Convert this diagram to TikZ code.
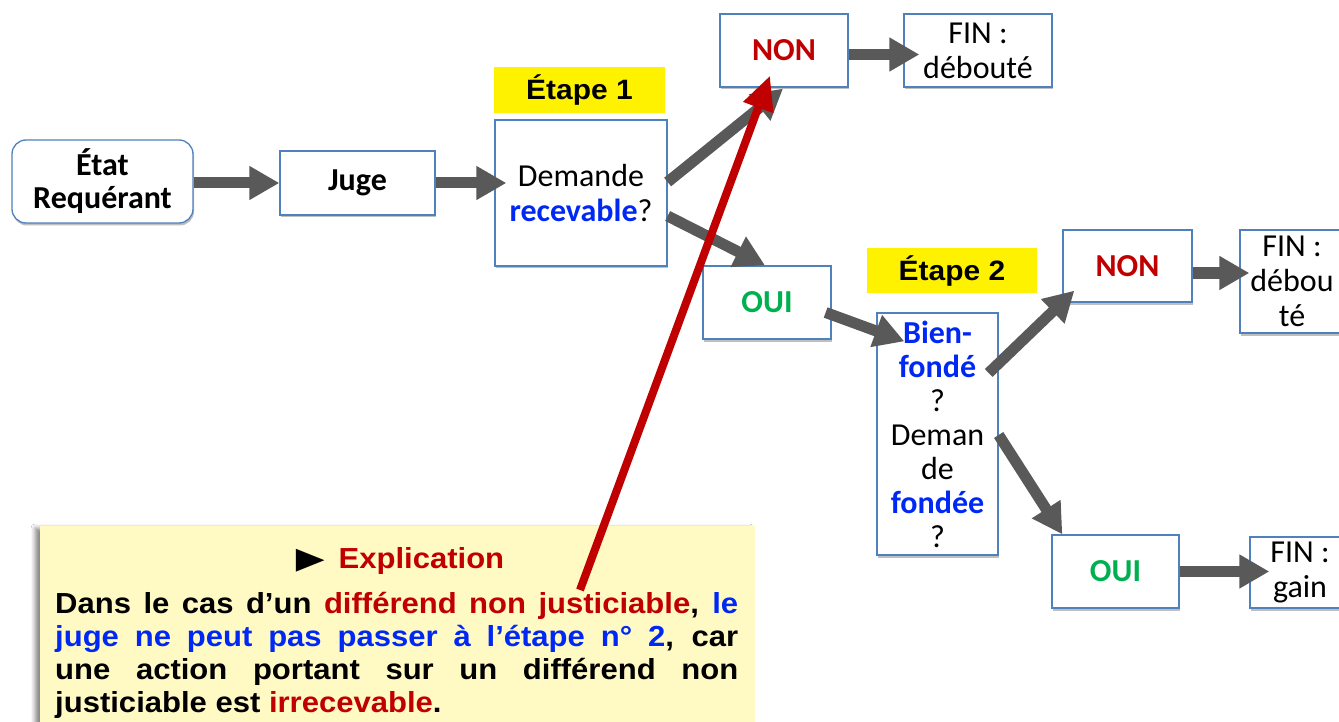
\documentclass[tikz,border=0pt]{standalone}
\usepackage{fontspec}
\setmainfont{Carlito}
\newfontfamily\arialb{Liberation Sans}[FakeStretch=1.07]
\newfontfamily\dejavu{DejaVu Sans}
\usetikzlibrary{arrows.meta,shadows,shadows.blur,calc}
\definecolor{boxline}{RGB}{79,129,189}
\definecolor{arrgray}{RGB}{89,89,89}
\definecolor{dred}{RGB}{192,0,0}
\definecolor{tblue}{RGB}{0,40,245}
\definecolor{tgreen}{RGB}{0,176,80}
\definecolor{paleyel}{RGB}{255,250,196}
\begin{document}
\begin{tikzpicture}[x=1pt,y=-1pt,
  box/.style={draw=boxline, line width=1.3pt, fill=white, inner sep=0pt, align=center,
    font=\fontsize{32}{35}\selectfont,
    drop shadow={shadow xshift=1pt, shadow yshift=-2.5pt, fill=black, opacity=.25}},
  ybox/.style={fill=yellow, inner sep=0pt, align=center,
    font=\arialb\bfseries\fontsize{28}{30}\selectfont},
  garrow/.style={draw=arrgray, line width=11pt, -{Triangle[width=32pt,length=30pt]}},
  rarrow/.style={draw=dred, line width=8pt, -{Triangle[width=30pt,length=34pt]}}]
\useasboundingbox (0,0) rectangle (1339,722);
\fill[white] (0,0) rectangle (1339,722);

% explanation box
\node[fill=paleyel, minimum width=715pt, minimum height=214pt, inner sep=0pt,
  blur shadow={shadow xshift=-5pt, shadow yshift=-2pt, shadow blur radius=4pt, shadow opacity=45}]
  (expl) at (397.5,633) {};
\node[anchor=base, inner sep=0pt, font=\arialb\bfseries\fontsize{29}{33}\selectfont] (exhead) at (400,568)
  {{\dejavu\fontsize{30}{30}\selectfont\scalebox{1.25}[1]{▶}}\hspace{14pt}\textcolor{dred}{Explication}};
\node[anchor=base west, text width=683pt, align=justify, inner sep=0pt,
  font=\arialb\bfseries\fontsize{29}{33.2}\selectfont] (exbody) at (55,613)
  {Dans le cas d’un \textcolor{dred}{différend non justiciable}, \textcolor{tblue}{le}\linebreak
   \textcolor{tblue}{juge ne peut pas passer à l’étape n° 2}, car\linebreak
   une action portant sur un différend non\linebreak
   justiciable est \textcolor{dred}{irrecevable}.};

% boxes
\node[box, rounded corners=14pt, minimum width=181pt, minimum height=83pt,
  font=\bfseries\fontsize{32}{33}\selectfont] (etat) at (102.5,181.5) {État\\Requérant};
\node[box, minimum width=155pt, minimum height=64pt, font=\bfseries\fontsize{32}{35}\selectfont]
  (juge) at (357.5,183) {Juge};
\node[box, minimum width=172pt, minimum height=146pt] (dem) at (581,193)
  {Demande\\\textcolor{tblue}{\bfseries recevable}?};
\node[ybox, minimum width=171pt, minimum height=46pt] (et1) at (579.5,90) {Étape 1};
\node[box, minimum width=128pt, minimum height=73pt, font=\bfseries\fontsize{32}{35}\selectfont]
  (non1) at (784,50.5) {\textcolor{dred}{NON}};
\node[box, minimum width=148pt, minimum height=73pt] (fin1) at (978,50.5) {FIN :\\débouté};
\node[box, minimum width=128pt, minimum height=73pt, font=\bfseries\fontsize{32}{35}\selectfont]
  (oui1) at (767,302.5) {\textcolor{tgreen}{OUI}};
\node[ybox, minimum width=170pt, minimum height=45pt] (et2) at (952,270.5) {Étape 2};
\node[box, minimum width=121pt, minimum height=242pt, font=\fontsize{32}{34}\selectfont]
  (bien) at (937.5,434)
  {\textcolor{tblue}{\bfseries Bien-}\\\textcolor{tblue}{\bfseries fondé}\\?\\Deman\\de\\\textcolor{tblue}{\bfseries fondée}\\?};
\node[box, minimum width=129pt, minimum height=72pt, font=\bfseries\fontsize{32}{35}\selectfont]
  (non2) at (1127.5,266) {\textcolor{dred}{NON}};
\node[box, minimum width=104pt, minimum height=103pt] (fin2) at (1292,281.5) {FIN :\\débou\\té};
\node[box, minimum width=127pt, minimum height=73pt, font=\bfseries\fontsize{32}{35}\selectfont]
  (oui2) at (1115.5,571.5) {\textcolor{tgreen}{OUI}};
\node[box, minimum width=100pt, minimum height=71pt] (fin3) at (1300,572.5) {FIN :\\gain};

% gray arrows
\draw[garrow] (etat.east |- juge.west) -- (juge.west);
\draw[garrow] (juge.east) -- ($(dem.west |- juge.east)+(12,0)$);
\draw[garrow] ($(dem.east)+(0,-11)$) -- ($(non1.south)+(-1,1)$);
\draw[garrow] ($(dem.east)+(0,23)$) -- ($(oui1.north)+(-2,0)$);
\draw[garrow] ($(non1.east)+(0,4)$) -- ($(fin1.west)+(16,4)$);
\draw[garrow] ($(oui1.east)+(-6,10)$) -- ($(bien.north west)+(28,29)$);
\draw[garrow] ($(bien.east)+(-10,-61)$) -- ($(non2.south west)+(12,-12)$);
\draw[garrow] ($(bien.east)+(0,1)$) -- ($(oui2.north west)+(11,0)$);
\draw[garrow] ($(non2.east)+(0,7)$) -- ($(fin2.west)+(10,-8.5)$);
\draw[garrow] (oui2.east) -- ($(fin3.west)+(20,-1)$);

% red arrow
\coordinate (redtail) at (580,590);
\draw[rarrow] (redtail) -- ($(non1.south)+(-14,-12)$);
\end{tikzpicture}
\end{document}
